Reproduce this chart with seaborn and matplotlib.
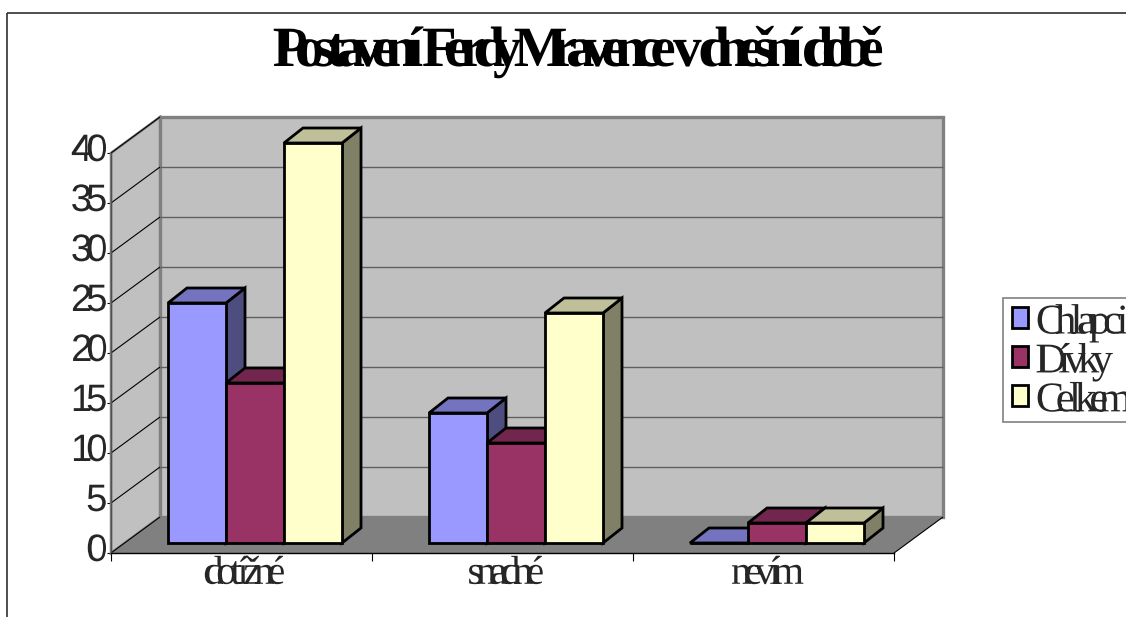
import numpy as np
import pandas as pd
import matplotlib
matplotlib.use("Agg")
import matplotlib.pyplot as plt
import seaborn as sns
from matplotlib.colors import to_rgb
from matplotlib.patches import Polygon, Rectangle
from matplotlib.patheffects import AbstractPathEffect
from matplotlib.path import Path
from matplotlib.transforms import IdentityTransform

TITLE = "Postavení Ferdy Mravence v dnešní době"
categories = ["dotížné", "snadné", "nevím"]
series_names = ["Chlapci", "Dívky", "Celkem"]
chlapci = [24, 13, 0]
divky = [16, 10, 2]
celkem = [40, 23, 2]
colors = ["#9999FF", "#993366", "#FFFFCC"]
y_ticks = [0, 5, 10, 15, 20, 25, 30, 35, 40]

W, H = 1126, 617
sns.set_theme(style="white")
plt.rcParams["font.family"] = ["Liberation Serif", "DejaVu Serif"]


class Tight(AbstractPathEffect):
    """Tightens letter spacing: moves each glyph contour towards the anchor."""

    def __init__(self, factor, anchor="center", dx=0, dy=0):
        super().__init__()
        self.factor, self.anchor, self.dx, self.dy = factor, anchor, dx, dy

    def draw_path(self, renderer, gc, tpath, affine, rgbFace=None):
        v = affine.transform(tpath.vertices)
        c = tpath.codes
        x0, x1 = v[:, 0].min(), v[:, 0].max()
        ref = {"left": x0, "right": x1, "center": (x0 + x1) / 2}[self.anchor]
        starts = list(np.where(c == Path.MOVETO)[0]) + [len(c)]
        out = v.copy()
        for a, b in zip(starts[:-1], starts[1:]):
            mid = (v[a:b, 0].min() + v[a:b, 0].max()) / 2
            out[a:b, 0] += (self.factor - 1) * (mid - ref)
        out += [self.dx, self.dy]
        renderer.draw_path(gc, Path(out, c), IdentityTransform(), rgbFace)


def box(l, t, r, b):
    return [l / W, 1 - b / H, (r - l) / W, (b - t) / H]


fig = plt.figure(figsize=(W / 100, H / 100), dpi=100, facecolor="white")
fig.add_artist(Rectangle((7 / W, 1 - 13 / H), 2, -2, transform=fig.transFigure,
                         fill=False, edgecolor="#303030", linewidth=1.2, clip_on=False))

# Front plane of the box: real axis, ticks and labels
axf = fig.add_axes(box(111, 153, 894, 553), facecolor="none", zorder=1)
axf.set_xlim(-0.5, 2.5)
axf.set_ylim(0, 40)
axf.set_yticks(y_ticks)
axf.set_yticklabels([str(v) for v in y_ticks], fontfamily="Liberation Sans", fontsize=27.5)
axf.set_xticks([-0.5, 0.5, 1.5, 2.5], minor=False)
axf.set_xticklabels([])
axf.set_xticks([0, 1, 2], minor=True)
axf.set_xticklabels(categories, minor=True, fontsize=29)
axf.tick_params(axis="x", which="major", length=5.5, width=0.8, color="black", bottom=True)
axf.tick_params(axis="x", which="minor", length=0, pad=2, bottom=False)
axf.tick_params(axis="y", length=3, width=0.8, color="black", pad=1.5, left=True)
for s in ("top", "right"):
    axf.spines[s].set_visible(False)
axf.spines["bottom"].set_color("black")
axf.spines["bottom"].set_linewidth(1)
axf.spines["left"].set_color("#505050")
axf.spines["left"].set_linewidth(1)
for t in axf.get_yticklabels():
    t.set_path_effects([Tight(0.72, "right", 0, 6)])
for t in axf.get_xticklabels(minor=True):
    t.set_path_effects([Tight(0.63, "center", 3, 0)])

DEPTH = np.array([49, 36])  # box depth in pixels (up-right)
BAR_DEPTH = np.array([19, 15])


def pf(x, y, back=False):
    p = axf.transData.transform((x, y))
    return p + DEPTH if back else p


def poly(ax_, pts, fc, ec="none", lw=0, z=1):
    ax_.add_patch(Polygon(pts, closed=True, facecolor=fc, edgecolor=ec, linewidth=lw,
                          transform=IdentityTransform(), zorder=z, clip_on=False,
                          joinstyle="miter"))


WALL, FLOOR, EDGE = "#C0C0C0", "#808080", "#808080"
x0, x1, top = -0.5, 2.5, max(y_ticks)
poly(axf, [pf(x0, 0, True), pf(x1, 0, True), pf(x1, top, True), pf(x0, top, True)], WALL, EDGE, 2.4, 0.5)
poly(axf, [pf(x0, 0), pf(x0, 0, True), pf(x0, top, True), pf(x0, top)], WALL, EDGE, 1.8, 0.6)
poly(axf, [pf(x0, 0), pf(x0, 0, True), pf(x1, 0, True), pf(x1, 0)], FLOOR, "none", 0, 0.7)


def seg(a, b, c, lw, z=0.9):
    axf.plot([a[0], b[0]], [a[1], b[1]], color=c, linewidth=lw, transform=IdentityTransform(),
             zorder=z, clip_on=False, solid_capstyle="butt")


for v in y_ticks:
    seg(pf(x0, v), pf(x0, v, True), "black", 0.8)
    if v not in (0, top):
        seg(pf(x0, v, True), pf(x1, v, True), "#606060", 1.0)
seg(pf(x1, 0), pf(x1, 0, True), "black", 0.8)

# Bars, on a plane inside the box
ax = fig.add_axes(box(124.5, 143, 907.5, 543), facecolor="none", zorder=2)
df = pd.DataFrame({
    "kategorie": categories * 3,
    "série": np.repeat(series_names, 3),
    "počet": chlapci + divky + celkem,
})
sns.barplot(data=df, x="kategorie", y="počet", hue="série", order=categories,
            hue_order=series_names, palette=colors, saturation=1, width=2 / 3, gap=0,
            edgecolor="black", linewidth=2.0, ax=ax, errorbar=None)
ax.set_xlim(-0.5, 2.5)
ax.set_ylim(0, 40)
ax.set_axis_off()


def shade(c, f):
    return tuple(v * f for v in to_rgb(c))


for i, (container, col) in enumerate(zip(ax.containers, colors)):
    for r in container:
        r.set_zorder(3 + i + 0.5)
        r.set_clip_on(False)
        l, w, h = r.get_x(), r.get_width(), r.get_height()
        fl = ax.transData.transform((l, h))
        fr = ax.transData.transform((l + w, h))
        br = ax.transData.transform((l + w, 0))
        poly(ax, [fl, fr, fr + BAR_DEPTH, fl + BAR_DEPTH], shade(col, 0.75), "black", 2.0, 3 + i + 0.2)
        if h > 0:
            poly(ax, [fr, br, br + BAR_DEPTH, fr + BAR_DEPTH], shade(col, 0.5), "black", 2.0, 3 + i + 0.1)

# Legend frame runs past the right edge, as in the reference
fig.add_artist(Rectangle((1003 / W, 1 - 422 / H), 300 / W, 124 / H, transform=fig.transFigure,
                         facecolor="white", edgecolor="#808080", linewidth=1.2, clip_on=False,
                         zorder=1.5))
handles = [c[0] for c in ax.containers]
leg = ax.legend(handles, series_names, loc="upper left", bbox_to_anchor=(1012 / W, 1 - 303 / H),
                bbox_transform=fig.transFigure, borderaxespad=0, fontsize=30.5, frameon=False,
                handlelength=0.38, handleheight=0.38, handletextpad=0.22, borderpad=0,
                labelspacing=0.01, title=None)
leg.set_zorder(10)
for t in leg.get_texts():
    t.set_path_effects([Tight(0.65, "left", 3, -1)])

ttl = fig.text(579.5 / W, 1 - 66 / H, TITLE, ha="center", va="baseline", fontsize=41,
               fontweight="bold", color="black")
ttl.set_path_effects([Tight(0.60, "center")])

fig.savefig("out.png", dpi=100, facecolor="white")
